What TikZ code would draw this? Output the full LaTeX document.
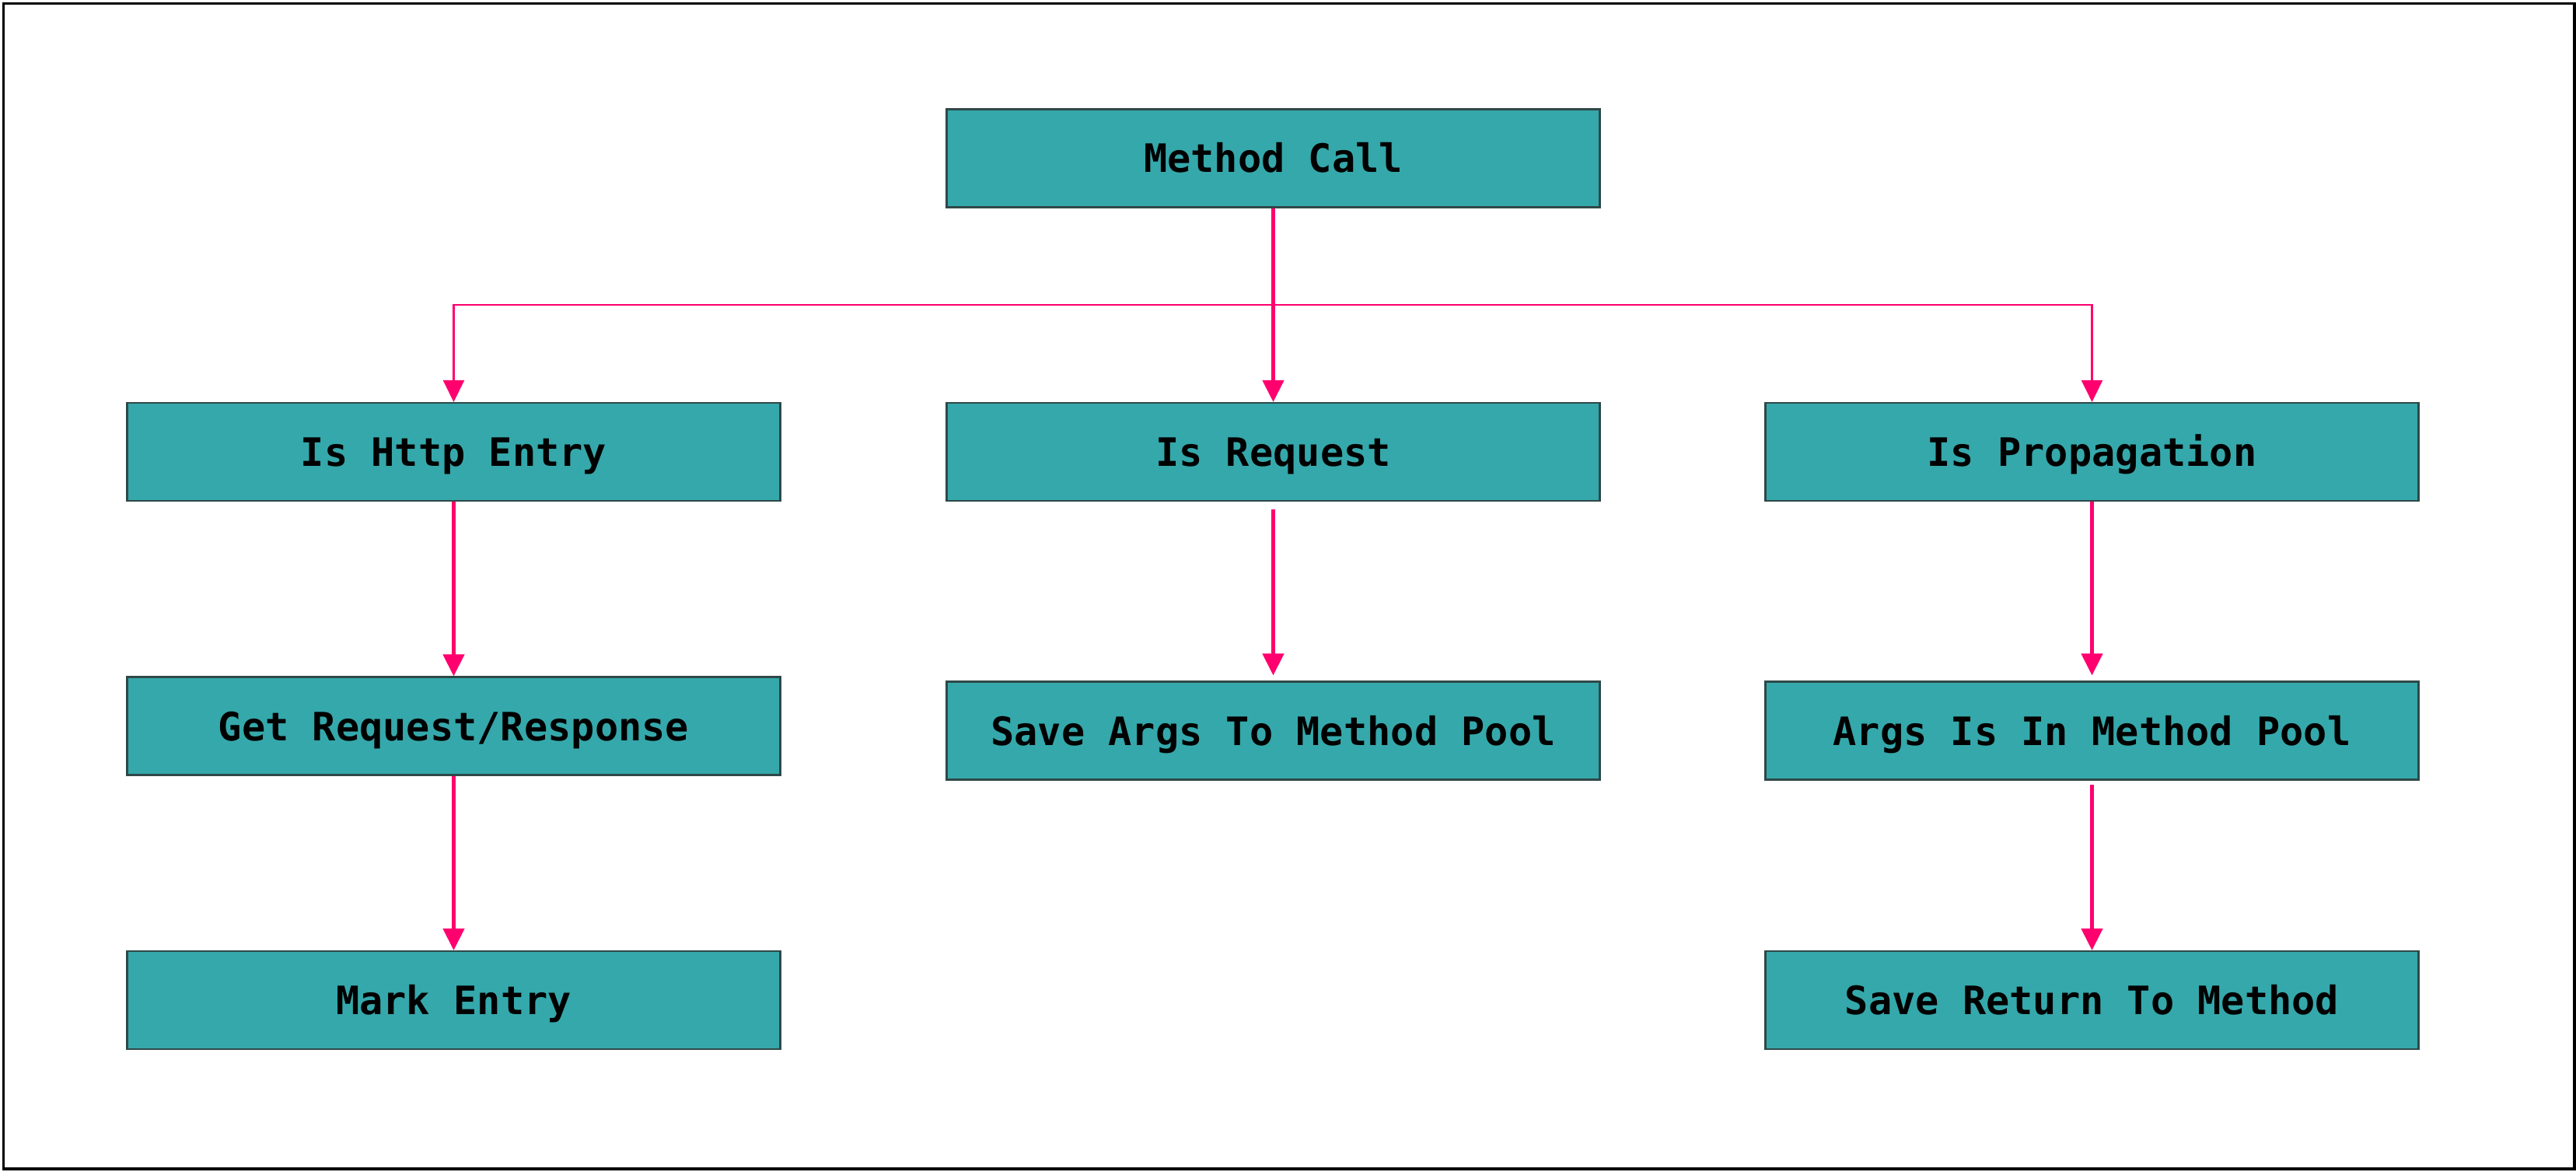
\documentclass[tikz,border=0pt]{standalone}
\usepackage{fontspec}
\setmonofont{DejaVu Sans Mono}
\usetikzlibrary{arrows.meta,calc}
\definecolor{boxteal}{RGB}{53,168,171}
\definecolor{boxline}{RGB}{47,72,72}
\definecolor{flowpink}{RGB}{255,0,110}

\begin{document}
\begin{tikzpicture}[
    stage/.style={draw=boxline, line width=0.6pt, fill=boxteal, minimum width=8.4cm, minimum height=1.26cm,
        inner sep=0pt, text height=0.37cm, text depth=0pt, font=\fontsize{14.3}{17}\selectfont\ttfamily\bfseries},
    flow/.style={flowpink, line width=1.3pt, -{Triangle[width=0.27cm,length=0.28cm]}},
    branch/.style={flowpink, line width=0.7pt}]
\useasboundingbox (0,0) rectangle (33.13,-15.07);
\draw[line width=0.9pt] (0.045,-0.045) rectangle (33.11,-15.03);

\node[stage] (call) at (16.375,-2.035) {Method Call};

\node[stage] (http) at (5.835,-5.81) {Is Http Entry};
\node[stage] (req) at (16.375,-5.81) {Is Request};
\node[stage] (prop) at (26.905,-5.81) {Is Propagation};

\node[stage] (getreq) at (5.835,-9.335) {Get Request/Response};
\node[stage] (savargs) at (16.375,-9.395) {Save Args To Method Pool};
\node[stage] (inpool) at (26.905,-9.395) {Args Is In Method Pool};

\node[stage] (mark) at (5.835,-12.86) {Mark Entry};
\node[stage] (savret) at (26.905,-12.86) {Save Return To Method};

\coordinate (split) at ($(call.south)!0.5!(req.north)$);
\draw[flow] (call) -- (req);
\draw[branch] (http.north |- split) -- (prop.north |- split);
\draw[flow, line width=0.7pt] (split) -| (http);
\draw[flow, line width=0.7pt] (split) -| (prop);

\draw[flow] (http) -- (getreq);
\draw[flow] (getreq) -- (mark);
\draw[flow, shorten <=0.1cm, shorten >=0.07cm] (req) -- (savargs);
\draw[flow, shorten >=0.07cm] (prop) -- (inpool);
\draw[flow, shorten <=0.05cm] (inpool) -- (savret);
\end{tikzpicture}
\end{document}
